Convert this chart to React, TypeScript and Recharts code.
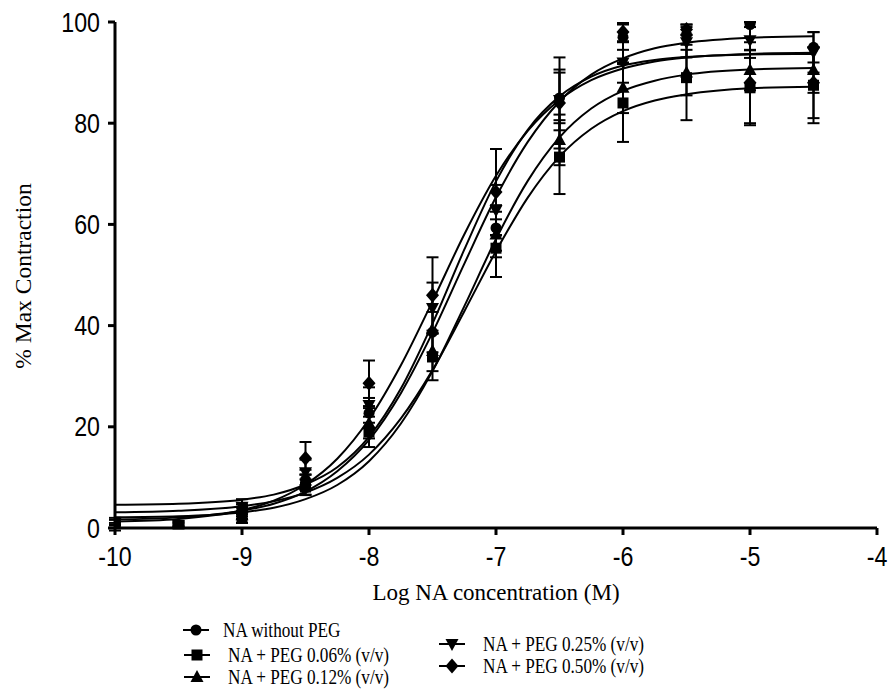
import React from "react"
import { ComposedChart, Line, Scatter, XAxis, YAxis, ErrorBar, Label } from "recharts"

// log molar concentrations where the tissue was dosed
const doses = [-10, -9.5, -9, -8.5, -8, -7.5, -7, -6.5, -6, -5.5, -5, -4.5]

const fitX = [-10, -9.5, -9, -8.75, -8.5, -8.25, -8, -7.75, -7.5, -7.25, -7, -6.75, -6.5, -6.25, -6, -5.75, -5.5, -5, -4.5]

const xTicks = [-10, -9, -8, -7, -6, -5, -4]
const yTicks = [0, 20, 40, 60, 80, 100]

// mean % max contraction and SEM for each group
const noPegMean = [0.5, 0.3, 3.5, 9.5, 22.7, 38.7, 59.3, 85, 97, 97.5, 99.5, 95]
const noPegSem = [0.5, 0.3, 1.2, 2, 3, 4, 4.5, 5, 2.5, 2, 0.5, 3]
const peg006Mean = [0.3, 0.5, 2.2, 8.1, 19, 33.8, 55.3, 73.3, 84, 89, 87, 87.5]
const peg006Sem = [0.3, 0.5, 1.2, 1.5, 3, 4.6, 5.7, 7.3, 7.7, 8.4, 7.4, 7.5]
const peg012Mean = [0.8, 0.8, 2.5, 8.5, 20.7, 35, 58, 76.7, 87, 90, 90.5, 90.5]
const peg012Sem = [0.8, 0.6, 1.5, 2, 3, 4, 4.5, 5, 5, 4.5, 4, 4.5]
const peg025Mean = [1, 0.5, 4.2, 11, 24.3, 43.5, 62.8, 84.6, 92, 96, 96.4, 94]
const peg025Sem = [1, 0.5, 1.5, 2.5, 3.5, 5, 5, 6, 4, 3, 3.5, 4]
const peg050Mean = [0, 0.2, 3, 13.8, 28.6, 46, 66.4, 84, 98, 98.5, 88, 88]
const peg050Sem = [0.5, 0.3, 1.2, 3.2, 4.5, 7.5, 8.5, 9, 1.8, 1, 8, 7]

// fitted sigmoid curves, values read at fitX
const noPegFit = [1.7, 2.1, 3.4, 4.8, 7.2, 11.2, 17.4, 26.6, 38.6, 52.2, 65.4, 76.3, 84.3, 89.6, 92.8, 94.8, 95.9, 96.9, 97.2]
const peg006Fit = [3.1, 3.4, 4.3, 5.3, 7.0, 9.9, 14.5, 21.6, 31.2, 42.8, 54.7, 65.3, 73.4, 78.9, 82.4, 84.5, 85.7, 86.9, 87.2]
const peg012Fit = [2.1, 2.3, 3.1, 4.0, 5.7, 8.5, 13.2, 20.6, 31.0, 43.8, 57.1, 68.6, 77.2, 82.9, 86.4, 88.4, 89.6, 90.6, 90.9]
const peg025Fit = [4.6, 4.8, 5.6, 6.6, 8.6, 12.0, 18.0, 27.5, 40.4, 55.0, 68.5, 78.7, 85.3, 89.2, 91.4, 92.5, 93.1, 93.6, 93.7]
const peg050Fit = [1.3, 1.8, 3.5, 5.4, 8.6, 13.7, 21.5, 32.1, 44.8, 58.0, 69.6, 78.5, 84.6, 88.5, 90.8, 92.2, 93.0, 93.7, 93.9]

const SANS = "'Liberation Sans', Arial, sans-serif"
const SERIF = "'Liberation Serif', 'Times New Roman', serif"

type Kind = "circle" | "square" | "up" | "down" | "diamond"

const groups: { name: string; kind: Kind; mean: number[]; sem: number[]; fit: number[] }[] = [
  { name: "NA without PEG", kind: "circle", mean: noPegMean, sem: noPegSem, fit: noPegFit },
  { name: "NA + PEG 0.06% (v/v)", kind: "square", mean: peg006Mean, sem: peg006Sem, fit: peg006Fit },
  { name: "NA + PEG 0.12% (v/v)", kind: "up", mean: peg012Mean, sem: peg012Sem, fit: peg012Fit },
  { name: "NA + PEG 0.25% (v/v)", kind: "down", mean: peg025Mean, sem: peg025Sem, fit: peg025Fit },
  { name: "NA + PEG 0.50% (v/v)", kind: "diamond", mean: peg050Mean, sem: peg050Sem, fit: peg050Fit },
]

function Marker({ cx, cy, kind }: { cx: number; cy: number; kind: Kind }) {
  if (cx == null || cy == null) return null
  switch (kind) {
    case "circle":
      return <circle cx={cx} cy={cy} r={5.5} fill="#000" />
    case "square":
      return <rect x={cx - 5.5} y={cy - 5.5} width={11} height={11} fill="#000" />
    case "up":
      return <polygon points={`${cx},${cy - 7} ${cx + 6.5},${cy + 5} ${cx - 6.5},${cy + 5}`} fill="#000" />
    case "down":
      return <polygon points={`${cx},${cy + 7} ${cx + 6.5},${cy - 5} ${cx - 6.5},${cy - 5}`} fill="#000" />
    default:
      return <polygon points={`${cx},${cy - 7.5} ${cx + 6.5},${cy} ${cx},${cy + 7.5} ${cx - 6.5},${cy}`} fill="#000" />
  }
}

const XTick = (props: any) => {
  const { x, y, payload } = props
  return (
    <g transform={`translate(${x},${y})`}>
      <text transform="scale(0.86,1)" textAnchor="middle" dy="0.71em" fontSize={27} fontFamily={SANS} fill="#000">
        {payload.value}
      </text>
    </g>
  )
}

const YTick = (props: any) => {
  const { x, y, payload } = props
  return (
    <g transform={`translate(${x},${y})`}>
      <text transform="scale(0.86,1)" textAnchor="end" dy="0.355em" fontSize={27} fontFamily={SANS} fill="#000">
        {payload.value}
      </text>
    </g>
  )
}

const YTitle = () => (
  <text x={31} y={276} transform="rotate(-90 31 276)" textAnchor="middle" fontSize={23.5} fontFamily={SERIF} fill="#000">
    % Max Contraction
  </text>
)

function LegendItem({ x, y, textX, kind, label }: { x: number; y: number; textX: number; kind: Kind; label: string }) {
  return (
    <g>
      <line x1={x - 13} y1={y} x2={x + 13} y2={y} stroke="#000" strokeWidth={2} />
      <Marker cx={x} cy={y} kind={kind} />
      <g transform={`translate(${textX},${y + 7}) scale(0.8,1)`}>
        <text x={0} y={0} fontSize={21.5} fontFamily={SERIF} fill="#000">
          {label}
        </text>
      </g>
    </g>
  )
}

export default function App() {
  return (
    <div style={{ position: "absolute", left: 0, top: 0, width: 892, height: 700, background: "#fff" }}>
      <ComposedChart width={892} height={610} margin={{ top: 22, right: 15, bottom: 10, left: 55 }}>
        <XAxis
          type="number"
          dataKey="x"
          domain={[-10, -4]}
          ticks={xTicks}
          allowDataOverflow
          height={72}
          axisLine={{ stroke: "#000", strokeWidth: 3 }}
          tickLine={{ stroke: "#000", strokeWidth: 3 }}
          tickSize={7}
          tickMargin={12}
          tick={<XTick />}
        >
          <Label
            value="Log NA concentration (M)"
            position="insideBottom"
            offset={0}
            fontSize={23}
            fontFamily={SERIF}
            fill="#000"
          />
        </XAxis>
        <YAxis
          type="number"
          dataKey="y"
          domain={[0, 100]}
          ticks={yTicks}
          allowDataOverflow
          width={60}
          axisLine={{ stroke: "#000", strokeWidth: 3 }}
          tickLine={{ stroke: "#000", strokeWidth: 3 }}
          tickSize={7}
          tickMargin={8}
          tick={<YTick />}
        >
          <Label content={<YTitle />} />
        </YAxis>
        {groups.map((g) => (
          <Line
            key={"fit-" + g.kind}
            data={fitX.map((x, i) => ({ x, y: g.fit[i] }))}
            dataKey="y"
            type="monotone"
            stroke="#000"
            strokeWidth={2}
            dot={false}
            activeDot={false}
            legendType="none"
            isAnimationActive={false}
          />
        ))}
        {groups.map((g) => (
          <Scatter
            key={"pts-" + g.kind}
            name={g.name}
            data={doses.map((x, i) => ({ x, y: g.mean[i], err: g.sem[i] }))}
            dataKey="y"
            shape={(p: any) => <Marker cx={p.cx} cy={p.cy} kind={g.kind} />}
            isAnimationActive={false}
          >
            <ErrorBar dataKey="err" direction="y" width={6} stroke="#000" strokeWidth={2} />
          </Scatter>
        ))}
      </ComposedChart>
      <svg width={892} height={700} style={{ position: "absolute", left: 0, top: 0, pointerEvents: "none" }}>
        <LegendItem x={196} y={630} textX={223} kind="circle" label={groups[0].name} />
        <LegendItem x={197} y={655} textX={228} kind="square" label={groups[1].name} />
        <LegendItem x={197} y={677} textX={228} kind="up" label={groups[2].name} />
        <LegendItem x={452} y={644} textX={483} kind="down" label={groups[3].name} />
        <LegendItem x={452} y={666} textX={483} kind="diamond" label={groups[4].name} />
      </svg>
    </div>
  )
}
